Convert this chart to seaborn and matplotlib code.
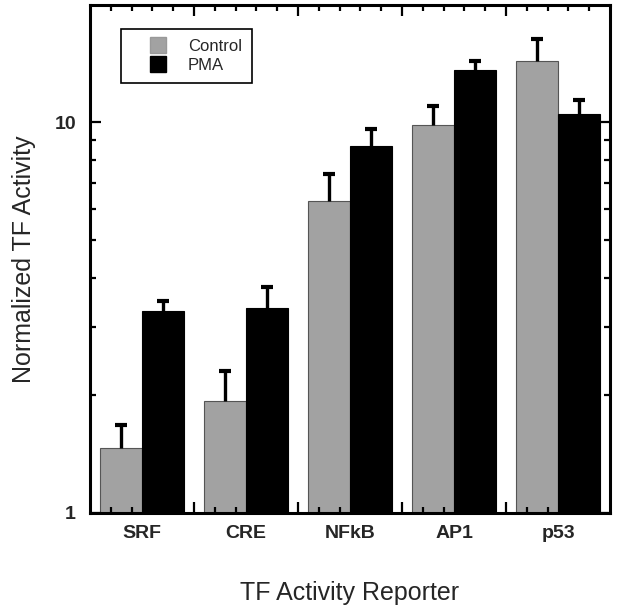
import matplotlib
matplotlib.use("Agg")
import matplotlib.pyplot as plt
import seaborn as sns
import pandas as pd
import numpy as np
from matplotlib.ticker import FixedLocator, NullFormatter
from matplotlib.lines import Line2D

reporters = ["SRF", "CRE", "NFkB", "AP1", "p53"]
control = [1.47, 1.93, 6.31, 9.84, 14.4]
control_err = [0.21, 0.38, 1.09, 1.16, 2.0]
pma = [3.30, 3.34, 8.70, 13.6, 10.5]
pma_err = [0.20, 0.46, 0.90, 0.75, 0.90]

df = pd.DataFrame({
    "reporter": reporters * 2,
    "activity": control + pma,
    "treatment": ["Control"] * len(reporters) + ["PMA"] * len(reporters),
})
errs = {"Control": control_err, "PMA": pma_err}

sns.set_style("ticks")
plt.rcParams["font.family"] = ["Liberation Sans", "DejaVu Sans"]

fig = plt.figure(figsize=(6.2, 6.14), dpi=100)
ax = fig.add_axes([0.145, 0.1645, 0.839, 0.8275])

colors = {"Control": "#a2a2a2", "PMA": "#000000"}
sns.barplot(data=df, x="reporter", y="activity", hue="treatment",
            palette=colors, errorbar=None, width=0.8, legend=False,
            edgecolor="#555555", linewidth=0.8, ax=ax)

# upper-only error bars with a cap at the top
for cont, level in zip(ax.containers, ["Control", "PMA"]):
    xs = np.array([b.get_x() + b.get_width() / 2 for b in cont])
    ys = np.array([b.get_height() for b in cont])
    tops = ys + np.array(errs[level])
    ax.vlines(xs, ys, tops, color="black", linewidth=2.4, zorder=5)
    ax.plot(xs, tops, linestyle="none", marker="_", markersize=8,
            markeredgewidth=3, color="black", zorder=5)
    if level == "PMA":
        for b in cont:
            b.set_edgecolor("black")

ax.set_axisbelow(False)
ax.set_yscale("log")
ax.set_ylim(1, 20)
ax.set_xlim(-0.5, 4.5)
ax.yaxis.set_major_locator(FixedLocator([1, 10]))
ax.yaxis.set_minor_locator(FixedLocator([2, 3, 4, 5, 6, 7, 8, 9]))
ax.yaxis.set_minor_formatter(NullFormatter())
ax.set_yticklabels(["1", "10"], fontweight="bold", fontsize=14)

# x ticks: group separators (major) and a fine grid (minor); labels on a secondary axis
ax.xaxis.set_major_locator(FixedLocator([0.5, 1.5, 2.5, 3.5]))
ax.xaxis.set_major_formatter(NullFormatter())
ax.xaxis.set_minor_locator(FixedLocator(np.arange(-0.3, 4.4, 0.2)))

ax.tick_params(which="both", direction="in", top=True, right=True,
               width=1.6, color="black")
ax.tick_params(which="major", length=8)
ax.tick_params(which="minor", length=4.5)
ax.tick_params(axis="y", which="major", pad=10)

for s in ax.spines.values():
    s.set_linewidth(2.2)
    s.set_color("black")

sec = ax.secondary_xaxis("bottom")
sec.set_xticks(range(len(reporters)))
sec.set_xticklabels(reporters, fontweight="bold", fontsize=14)
sec.tick_params(length=0, pad=9)
sec.spines["bottom"].set_visible(False)

ax.set_xlabel("")
ax.set_ylabel("Normalized TF Activity", fontsize=18, labelpad=13)
sec.set_xlabel("TF Activity Reporter", fontsize=18, labelpad=28)

handles = [Line2D([], [], linestyle="none", marker="s", markersize=11.5,
                  markerfacecolor=colors["Control"], markeredgecolor="#999999",
                  label="Control"),
           Line2D([], [], linestyle="none", marker="s", markersize=11.5,
                  markerfacecolor=colors["PMA"], markeredgecolor="black",
                  label="PMA")]
leg = ax.legend(handles=handles, loc="upper left", bbox_to_anchor=(0.06, 0.953),
                borderaxespad=0, fancybox=False, framealpha=1, edgecolor="black",
                fontsize=12, handlelength=3.2, handletextpad=0.2,
                borderpad=0.6, labelspacing=0.25)
leg.get_frame().set_linewidth(1.2)

fig.savefig("out.png", dpi=100)
